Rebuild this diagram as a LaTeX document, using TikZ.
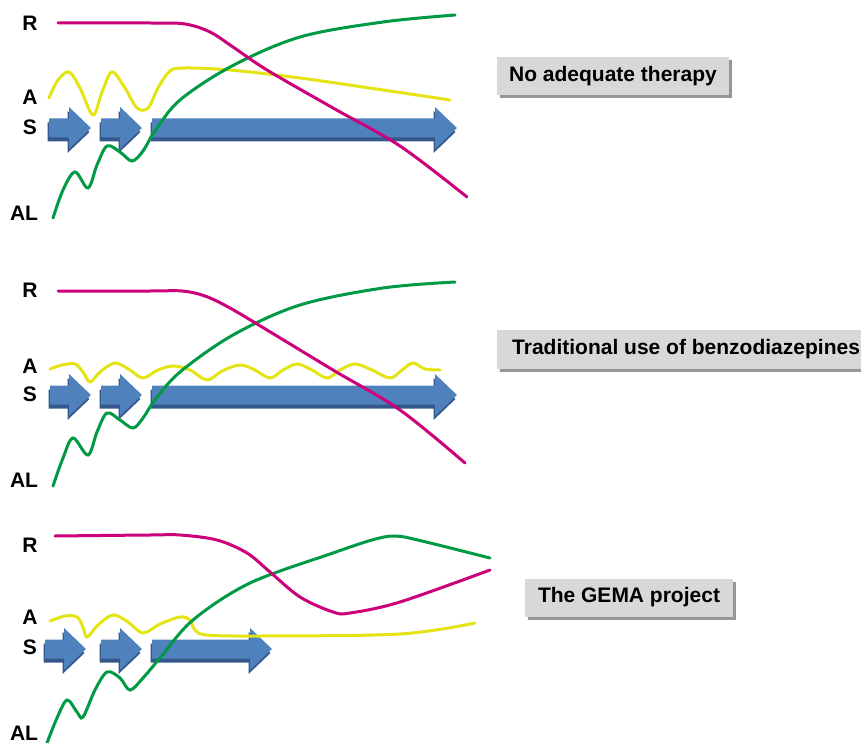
\documentclass[tikz,border=0pt]{standalone}
\usepackage{fontspec}
\setmainfont{Liberation Sans}
\usetikzlibrary{shadows}
\definecolor{rline}{RGB}{204,0,122}
\definecolor{aline}{RGB}{228,228,20}
\definecolor{alline}{RGB}{0,153,68}
\definecolor{sbody}{RGB}{79,129,189}
\definecolor{sshade}{RGB}{52,88,140}
\definecolor{boxgray}{RGB}{216,216,216}
\definecolor{boxshade}{RGB}{150,150,150}

\begin{document}
\begin{tikzpicture}[x=1pt,y=-1pt,
    lbl/.style={font=\bfseries\fontsize{21}{24}\selectfont, inner sep=0pt},
    tbox/.style={fill=boxgray, minimum height=38pt, inner xsep=12pt,
        font=\bfseries\fontsize{21}{24}\selectfont,
        drop shadow={shadow xshift=3pt, shadow yshift=-3pt, fill=boxshade, opacity=1}},
    curve/.style={line width=3pt, line cap=round, smooth, tension=0.55}]
    \useasboundingbox (0,0) rectangle (861,743);
    % labels R, A, S, AL of the three panels
    \foreach \p/\yr/\ya/\ys/\yal in {1/23.5/97/127.5/213.5, 2/290.5/366.5/394.5/480.5, 3/545/617/647/733}{
        \node[lbl] (R\p) at (30,\yr) {R};
        \node[lbl] (A\p) at (30,\ya) {A};
        \node[lbl] (S\p) at (30,\ys) {S};
        \node[lbl] (AL\p) at (24,\yal) {AL};
    }
    % block arrows (S)
    \foreach \xa/\xb/\yc in {49/91/128, 101/142/128, 152/457/128,
                             50/91/395, 101/142/395, 152/457/395,
                             45/86/649, 101/142/649, 152/272/649}{
        \fill[sshade, xshift=-1.5pt, yshift=-4pt] (\xa,\yc-9.5) -- (\xb-22,\yc-9.5) -- (\xb-22,\yc-21)
            -- (\xb,\yc) -- (\xb-22,\yc+21) -- (\xb-22,\yc+9.5) -- (\xa,\yc+9.5) -- cycle;
        \fill[sbody] (\xa,\yc-9.5) -- (\xb-22,\yc-9.5) -- (\xb-22,\yc-21)
            -- (\xb,\yc) -- (\xb-22,\yc+21) -- (\xb-22,\yc+9.5) -- (\xa,\yc+9.5) -- cycle;
    }

    % panel 1: no adequate therapy
    \draw[curve, aline] plot coordinates {(49,98) (58,80) (69,72) (80,88) (93,115) (102,92) (112,72)
        (125,88) (137,108) (148,108) (158,88) (170,71) (185,68) (230,70) (300,78) (383,90) (450,100)};
    \draw[curve, alline] plot coordinates {(53,218) (63,190) (75,172) (88,188) (97,165) (107,146)
        (120,152) (132,161) (143,151) (155,131) (180,100) (232,66) (300,37) (383,22) (455,15)};
    \draw[curve, rline] plot coordinates {(58,23) (150,23) (185,24) (210,32) (233,47) (267,70)
        (333,108) (400,146) (467,197)};
    \node[tbox, minimum width=232pt] (nothbox) at (613,76.5) {No adequate therapy};

    % panel 2: benzodiazepines
    \draw[curve, aline] plot coordinates {(50,369) (62,365) (75,364) (83,372) (90,382) (100,372)
        (115,363) (130,370) (143,378) (158,370) (173,366) (190,370) (207,380) (222,371) (240,365)
        (255,370) (270,378) (283,370) (297,364) (312,370) (327,378) (340,370) (355,364) (372,370)
        (390,378) (402,370) (413,363) (425,369) (440,370)};
    \draw[curve, alline] plot coordinates {(53,486) (63,458) (73,438) (88,455) (97,432) (107,413)
        (120,420) (133,428) (143,418) (155,400) (180,372) (233,335) (300,305) (383,288) (455,282)};
    \draw[curve, rline] plot coordinates {(58,291) (150,291) (182,291) (205,296) (230,308) (267,330)
        (333,370) (400,410) (465,463)};
    \node[tbox, anchor=west, inner xsep=15pt, minimum height=39pt] (benzobox) at (497,349.5)
        {Traditional use of benzodiazepines};

    % panel 3: GEMA
    \draw[curve, aline] plot coordinates {(50,621) (65,616) (77,617) (83,627) (87,637) (98,625)
        (113,615) (128,622) (143,633) (160,624) (180,617) (190,620) (195,630) (207,635) (260,636)
        (400,634) (475,623)};
    \draw[curve, alline] plot coordinates {(47,743) (57,718) (67,700) (77,712) (83,717) (95,690)
        (107,672) (120,678) (130,690) (143,678) (160,658) (193,620) (250,583) (333,553) (372,540)
        (395,536) (422,541) (490,558)};
    \draw[curve, rline] plot coordinates {(55,536) (150,535) (180,535) (217,540) (247,553) (270,572)
        (300,597) (333,612) (350,613) (400,602) (490,570)};
    \node[tbox, minimum width=208pt] (gemabox) at (629,597.5) {The GEMA project};
\end{tikzpicture}
\end{document}
